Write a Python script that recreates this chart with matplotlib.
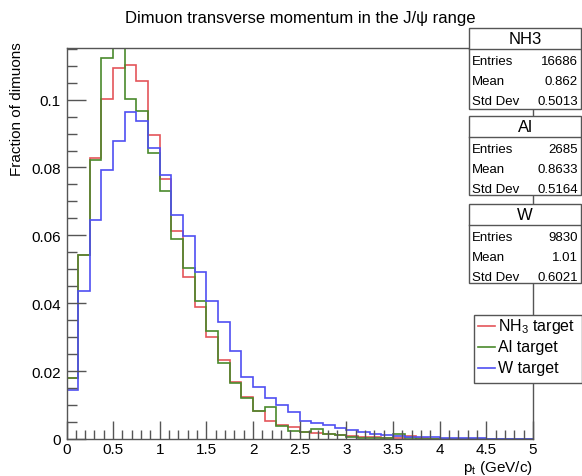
import numpy as np
import matplotlib
matplotlib.use("Agg")
import matplotlib.pyplot as plt
from matplotlib.patches import Rectangle
from matplotlib.lines import Line2D
from matplotlib.ticker import MultipleLocator

plt.rcParams['font.family'] = ['Liberation Sans', 'DejaVu Sans']
plt.rcParams['mathtext.default'] = 'regular'

# bin edges: 40 bins of 0.125 GeV/c from 0 to 5
edges = np.linspace(0, 5, 41)

# fraction of dimuons per bin
nh3 = [0.0180, 0.0543, 0.0829, 0.1001, 0.1094, 0.1103, 0.1055, 0.0897, 0.0765, 0.0614,
       0.0477, 0.0388, 0.0300, 0.0234, 0.0167, 0.0125, 0.0083, 0.0054, 0.0040, 0.0035,
       0.0022, 0.0018, 0.0015, 0.0012, 0.0008, 0.0006, 0.0005, 0.0004, 0.0003, 0.0010,
       0.0002, 0.0001, 0.0001, 0.0, 0.0, 0.0, 0.0, 0.0, 0.0, 0.0]
al = [0.0180, 0.0543, 0.0821, 0.1124, 0.1190, 0.1001, 0.0966, 0.0844, 0.0730, 0.0588,
      0.0505, 0.0406, 0.0318, 0.0223, 0.0164, 0.0121, 0.0083, 0.0093, 0.0037, 0.0024,
      0.0020, 0.0030, 0.0015, 0.0012, 0.0007, 0.0004, 0.0004, 0.0004, 0.0015, 0.0004,
      0.0, 0.0, 0.0, 0.0, 0.0, 0.0, 0.0, 0.0, 0.0, 0.0]
w = [0.0145, 0.0436, 0.0646, 0.0794, 0.0877, 0.0964, 0.0936, 0.0858, 0.0779, 0.0660,
     0.0598, 0.0492, 0.0406, 0.0344, 0.0258, 0.0182, 0.0154, 0.0120, 0.0100, 0.0080,
     0.0054, 0.0047, 0.0041, 0.0032, 0.0026, 0.0020, 0.0015, 0.0012, 0.0008, 0.0007,
     0.0005, 0.0006, 0.0004, 0.0003, 0.0002, 0.0002, 0.0001, 0.0, 0.0, 0.0]

series_names = ["NH3", "Al", "W"]
legend_labels = ["NH$_{3}$ target", "Al target", "W target"]
colors = ["#e4555a", "#4a8a2c", "#4f4ff2"]
stats = {
    "NH3": ("16686", "0.862", "0.5013"),
    "Al": ("2685", "0.8633", "0.5164"),
    "W": ("9830", "1.01", "0.6021"),
}

W_PX, H_PX = 582, 477
fig = plt.figure(figsize=(W_PX / 100, H_PX / 100), dpi=100)

def fx(x):
    return x / W_PX

def fy(y):
    return 1 - y / H_PX

# frame in pixels
left, right, top, bottom = 66.5, 533, 49, 440
ax = fig.add_axes([fx(left), fy(bottom), fx(right - left), (bottom - top) / H_PX])

for vals, c in zip([nh3, al, w], colors):
    ax.stairs(vals, edges, color=c, lw=1.2, baseline=0)

ax.set_xlim(0, 5)
ax.set_ylim(0, 0.1152)
ax.xaxis.set_major_locator(MultipleLocator(0.5))
ax.xaxis.set_minor_locator(MultipleLocator(0.1))
ax.yaxis.set_major_locator(MultipleLocator(0.02))
ax.yaxis.set_minor_locator(MultipleLocator(0.005))
ax.tick_params(axis='both', which='both', direction='in', color='#555555', width=1.0)
ax.tick_params(axis='x', which='major', length=13, pad=2, labelsize=11)
ax.tick_params(axis='x', which='minor', length=6.5)
ax.tick_params(axis='y', which='major', length=14, pad=4, labelsize=11)
ax.tick_params(axis='y', which='minor', length=7)
ax.tick_params(top=False, right=False)
ax.xaxis.set_major_formatter(plt.FuncFormatter(lambda v, p: f"{v:g}"))
ax.yaxis.set_major_formatter(plt.FuncFormatter(lambda v, p: f"{v:g}"))
for s in ax.spines.values():
    s.set_color('#555555')
    s.set_linewidth(1.0)

fig.text(fx(300), fy(18), "Dimuon transverse momentum in the J/\u03c8 range",
         ha='center', va='center', fontsize=12)
fig.text(fx(533), fy(468), "p$_{t}$ (GeV/c)", ha='right', va='center', fontsize=11)
fig.text(fx(17), fy(42), "Fraction of dimuons", ha='center', va='top',
         rotation=90, fontsize=11)

# stat boxes
box_tops = [29, 117, 205]
for name, yt in zip(series_names, box_tops):
    h = 81 if name == "NH3" else 79
    fig.patches.append(Rectangle((fx(469), fy(yt + h)), fx(112), h / H_PX,
                                 transform=fig.transFigure, facecolor='white',
                                 edgecolor='#555555', lw=1.0, zorder=5))
    fig.lines.append(Line2D([fx(469), fx(581)], [fy(yt + 21), fy(yt + 21)],
                            transform=fig.transFigure, color='#555555', lw=1.0, zorder=6))
    fig.text(fx(525), fy(yt + 11), name, ha='center', va='center', fontsize=12, zorder=7)
    rows = ["Entries", "Mean", "Std Dev"]
    for i, (r, v) in enumerate(zip(rows, stats[name])):
        yy = yt + 33 + i * 20
        fig.text(fx(472), fy(yy), r, ha='left', va='center', fontsize=9.5, zorder=7)
        fig.text(fx(578), fy(yy), v, ha='right', va='center', fontsize=9.5, zorder=7)

# legend
fig.patches.append(Rectangle((fx(474), fy(384)), fx(108), 68 / H_PX,
                             transform=fig.transFigure, facecolor='white',
                             edgecolor='#555555', lw=1.0, zorder=5))
for i, (lab, c) in enumerate(zip(legend_labels, colors)):
    yy = 327 + i * 21
    fig.lines.append(Line2D([fx(478), fx(495)], [fy(yy), fy(yy)],
                            transform=fig.transFigure, color=c, lw=1.2, zorder=6))
    fig.text(fx(498), fy(yy), lab, ha='left', va='center', fontsize=11.5, zorder=7)

fig.savefig("out.png", dpi=100)
